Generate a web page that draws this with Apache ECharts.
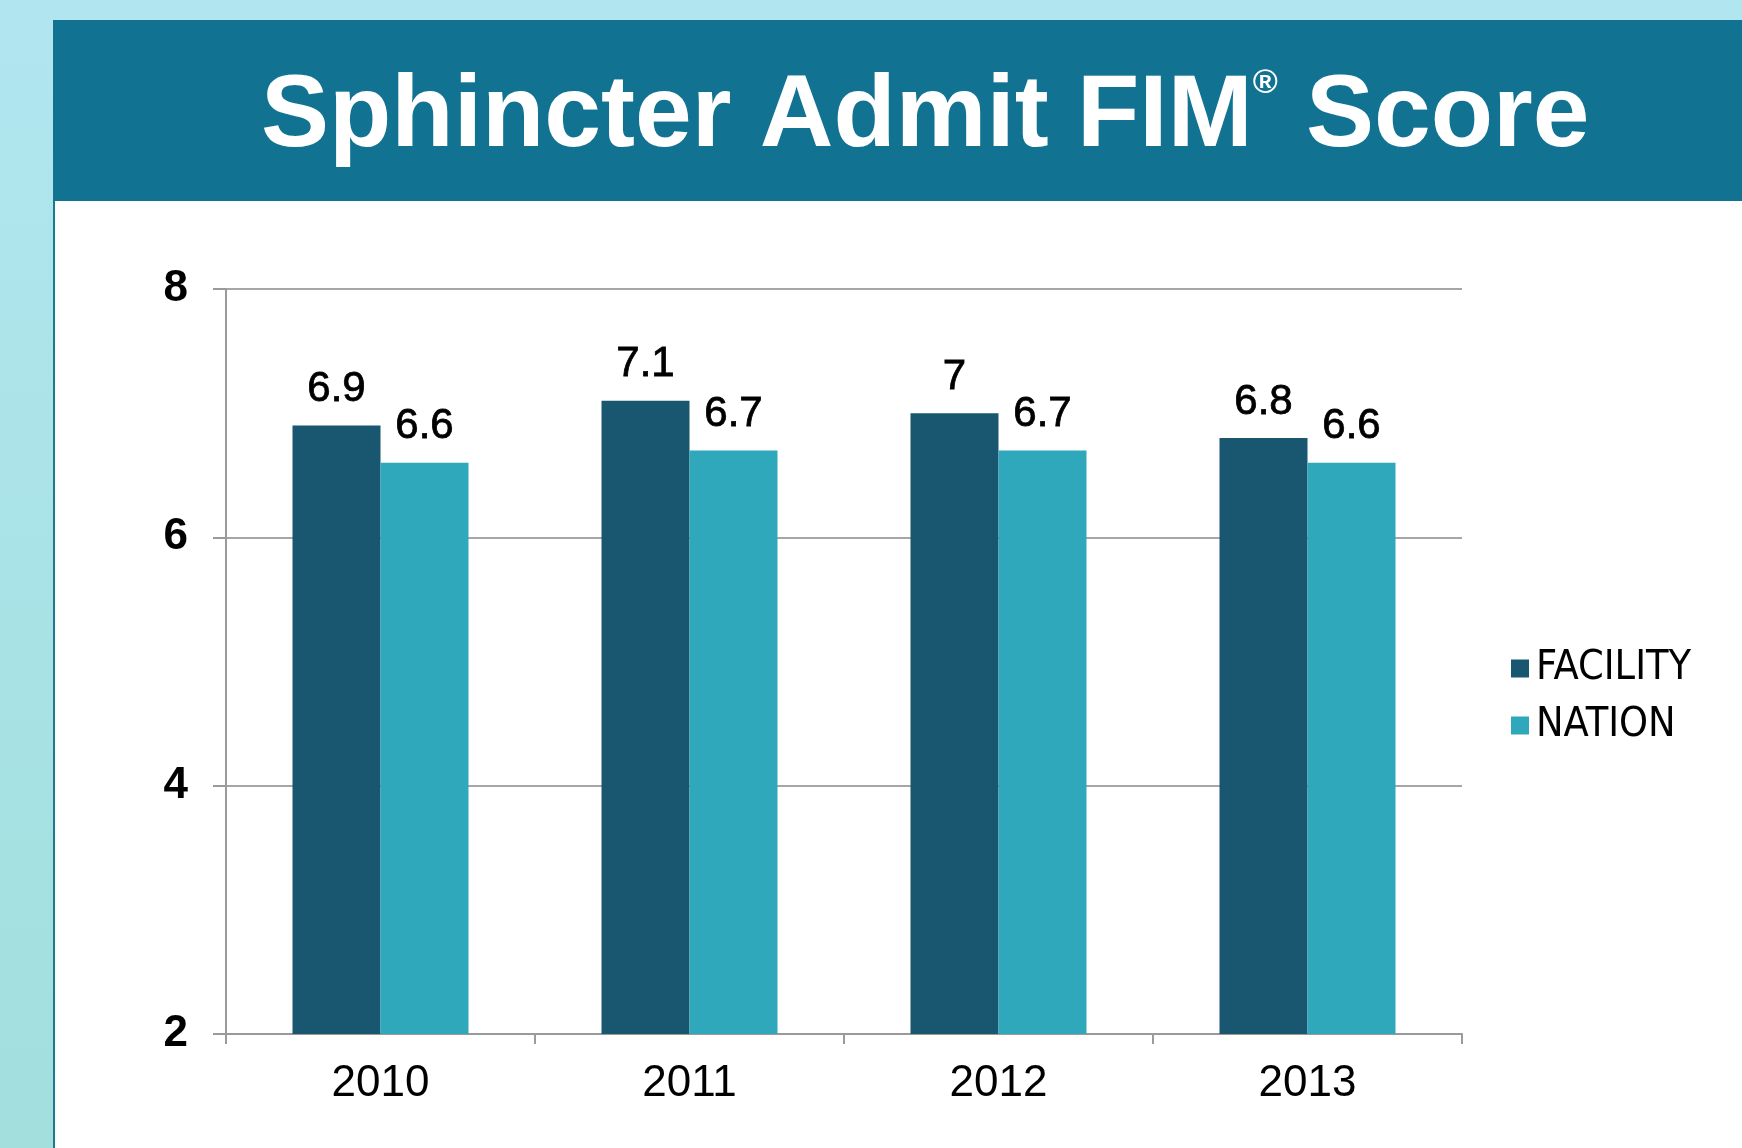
<!DOCTYPE html>
<html>
<head>
<meta charset="utf-8">
<script src="https://cdn.jsdelivr.net/npm/echarts@6/dist/echarts.min.js"></script>
<style>
  html, body { margin: 0; padding: 0; background: #ffffff; }
  #chart { width: 1742px; height: 1148px; }
</style>
</head>
<body>
<div id="chart"></div>
<script>
// Daten
const years = ['2010', '2011', '2012', '2013'];
const facility = [6.9, 7.1, 7, 6.8];
const nation = [6.6, 6.7, 6.7, 6.6];
const yTicks = [2, 4, 6, 8];

const chart = echarts.init(document.getElementById('chart'));

const labelFont = '"Liberation Sans", Arial, sans-serif';

// Datenbeschriftung etwas kräftiger als normal
const barLabel = {
  show: true,
  position: 'top',
  distance: 15,
  color: '#000000',
  fontFamily: labelFont,
  fontSize: 42,
  textBorderColor: '#000000',
  textBorderWidth: 0.8
};

const option = {
  backgroundColor: '#ffffff',
  animation: false,
  graphic: [
    // linker Streifen (Verlauf)
    {
      type: 'rect', shape: { x: 0, y: 0, width: 54, height: 1148 }, z: -10,
      style: {
        fill: {
          type: 'linear', x: 0, y: 0, x2: 0, y2: 1,
          colorStops: [
            { offset: 0, color: '#b1e6f0' },
            { offset: 1, color: '#a2dfdd' }
          ]
        }
      }
    },
    { type: 'rect', shape: { x: 0, y: 0, width: 1742, height: 20 }, z: -10, style: { fill: '#b1e6f0' } },
    { type: 'rect', shape: { x: 53, y: 200, width: 2, height: 948 }, z: -9, style: { fill: '#1b7a92' } },
    // Titelbalken
    { type: 'rect', shape: { x: 53, y: 20, width: 1689, height: 181 }, z: -9, style: { fill: '#117391' } }
  ],
  title: {
    text: 'Sphincter Admit FIM{r|®} Score',
    left: 256,
    top: 62,
    textStyle: {
      color: '#ffffff',
      fontFamily: labelFont,
      fontWeight: 'bold',
      fontSize: 102,
      rich: {
        r: { color: '#ffffff', fontFamily: labelFont, fontWeight: 'bold', fontSize: 34, verticalAlign: 'top', padding: [0, 0, 40, 0] }
      }
    }
  },
  legend: {
    orient: 'vertical',
    left: 1506,
    top: 643,
    itemWidth: 18,
    itemHeight: 18,
    itemGap: 16,
    icon: 'rect',
    textStyle: {
      color: '#000000',
      fontFamily: '"Liberation Sans Narrow", "DejaVu Sans Condensed", "Liberation Sans", sans-serif',
      fontSize: 41,
      padding: [10, 0, 0, 2]
    },
    data: ['FACILITY', 'NATION']
  },
  grid: {
    left: 226,
    right: 280,
    top: 289,
    bottom: 114
  },
  xAxis: {
    type: 'category',
    data: years,
    axisLine: { lineStyle: { color: '#9a9a9a', width: 2 } },
    axisTick: { show: true, length: 10, lineStyle: { color: '#9a9a9a', width: 2 } },
    axisLabel: {
      color: '#000000',
      fontFamily: labelFont,
      fontSize: 44,
      margin: 28
    }
  },
  yAxis: {
    type: 'value',
    min: 2,
    max: 8,
    interval: 2,
    axisLine: { show: true, lineStyle: { color: '#9a9a9a', width: 2 } },
    axisTick: { show: true, length: 13, lineStyle: { color: '#9a9a9a', width: 2 } },
    splitLine: { lineStyle: { color: '#a6a6a6', width: 2 } },
    axisLabel: {
      color: '#000000',
      fontFamily: labelFont,
      fontWeight: 'bold',
      fontSize: 44,
      margin: 38,
      formatter: (v) => (yTicks.includes(v) ? String(v) : '')
    }
  },
  series: [
    {
      name: 'FACILITY',
      type: 'bar',
      data: facility,
      barWidth: 88,
      barGap: '0%',
      itemStyle: { color: '#18576f' },
      label: barLabel
    },
    {
      name: 'NATION',
      type: 'bar',
      data: nation,
      barWidth: 88,
      itemStyle: { color: '#2fa8bc' },
      label: barLabel
    }
  ]
};

chart.setOption(option);
</script>
</body>
</html>
